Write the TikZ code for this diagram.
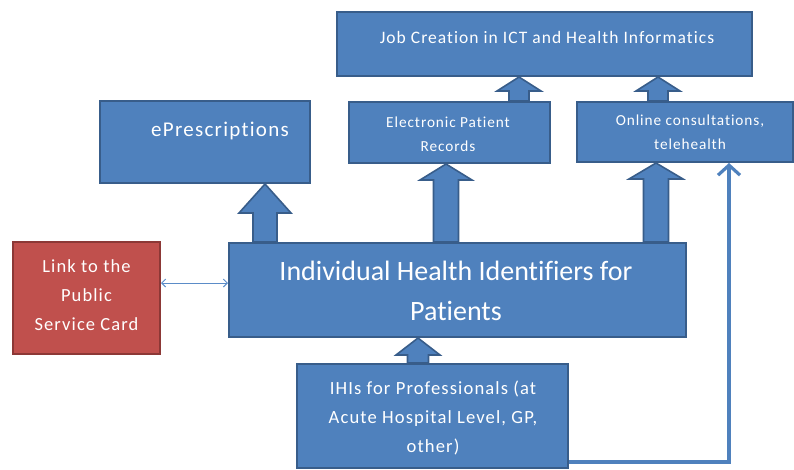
\documentclass[tikz,border=0pt]{standalone}
\usepackage{fontspec}
\setmainfont[Ligatures=NoCommon]{Carlito}
\newfontfamily\spaced[LetterSpace=6,Ligatures=NoCommon]{Carlito}
\usetikzlibrary{arrows.meta,calc}
\definecolor{fillblue}{HTML}{4F81BD}
\definecolor{edgeblue}{HTML}{385D8A}
\definecolor{fillred}{HTML}{C0504D}
\definecolor{edgered}{HTML}{8C3836}
\definecolor{thinblue}{HTML}{5B8CC8}
\tikzset{
  box/.style={draw=edgeblue, fill=fillblue, line width=2pt, inner sep=0pt},
  redbox/.style={draw=edgered, fill=fillred, line width=2pt, inner sep=0pt},
  lbl/.style={text=white, align=center, inner sep=0pt},
  blockarrow/.style={draw=edgeblue, fill=fillblue, line width=1.6pt, line join=miter},
  conn/.style={draw=fillblue, line width=3.2pt, -{Straight Barb[length=10pt,width=22pt,line width=3.2pt]}},
  thinconn/.style={draw=thinblue, line width=1pt, {Straight Barb[length=4pt,width=8pt]}-{Straight Barb[length=4pt,width=8pt]}},
}
% #1 centre x, #2 from node, #3 to node, #4 shaft half width, #5 head half width, #6 head height
\newcommand{\blockarr}[6]{%
  \draw[blockarrow] let \p1=(#2.north), \p2=(#3.south) in
    (#1pt-#4pt,\y1) -- (#1pt-#4pt,\y2-#6pt) -- (#1pt-#5pt,\y2-#6pt) -- (#1pt,\y2)
    -- (#1pt+#5pt,\y2-#6pt) -- (#1pt+#4pt,\y2-#6pt) -- (#1pt+#4pt,\y1) -- cycle;}
\begin{document}
\begin{tikzpicture}[x=1pt,y=-1pt]
\useasboundingbox (0,0) rectangle (794,469);
% boxes
\node[box, minimum width=415pt, minimum height=64pt] (job) at (544.5,44) {};
\node[box, minimum width=210pt, minimum height=82pt] (epres) at (205,142) {};
\node[box, minimum width=201pt, minimum height=61pt] (epr) at (449.5,132.5) {};
\node[box, minimum width=216pt, minimum height=60pt] (online) at (685,132) {};
\node[redbox, minimum width=147pt, minimum height=112pt] (link) at (86.5,298) {};
\node[box, minimum width=457pt, minimum height=94pt] (ihi) at (457.5,290) {};
\node[box, minimum width=271pt, minimum height=104pt] (prof) at (432.5,416) {};
% block arrows
\blockarr{265}{ihi}{epres}{12}{26}{29}
\blockarr{446}{ihi}{epr}{12.5}{26}{16}
\blockarr{656}{ihi}{online}{12.5}{27}{16}
\blockarr{519}{epr}{job}{10}{22}{14}
\blockarr{658}{online}{job}{10}{22}{14}
\blockarr{418}{prof}{ihi}{10.5}{22}{17}
% redraw boxes on top of arrow bases
\node[box, minimum width=457pt, minimum height=94pt] at (457.5,290) {};
\node[box, minimum width=201pt, minimum height=61pt] at (449.5,132.5) {};
\node[box, minimum width=216pt, minimum height=60pt] at (685,132) {};
% texts
\node[lbl, font=\spaced\fontsize{17.5}{20}\selectfont] (jobtxt) at (547,37) {Job Creation in ICT and Health Informatics};
\node[lbl, font=\spaced\fontsize{21}{24}\selectfont] (eprestxt) at (220,131) {ePrescriptions};
\node[lbl, font=\spaced\fontsize{15.3}{24}\selectfont] (eprtxt) at (448,134) {Electronic Patient\\Records};
\node[lbl, font=\spaced\fontsize{15.3}{24}\selectfont] (onlinetxt) at (690,132) {Online consultations,\\telehealth};
\node[lbl, font=\spaced\fontsize{18.5}{29}\selectfont] (linktxt) at (86.5,295) {Link to the\\Public\\Service Card};
\node[lbl, font=\fontsize{28}{40}\selectfont] (ihitxt) at (456,291) {Individual Health Identifiers for\\Patients};
\node[lbl, font=\spaced\fontsize{18.6}{29}\selectfont] (proftxt) at (433,418) {IHIs for Professionals (at\\Acute Hospital Level, GP,\\other)};
% connectors
\draw[conn] ([yshift=7pt]prof.south east) -| ([xshift=153pt]online.south west);
\draw[thinconn] ([yshift=15pt]link.east) -- ([yshift=15pt]link.east -| ihi.west);
\end{tikzpicture}
\end{document}
